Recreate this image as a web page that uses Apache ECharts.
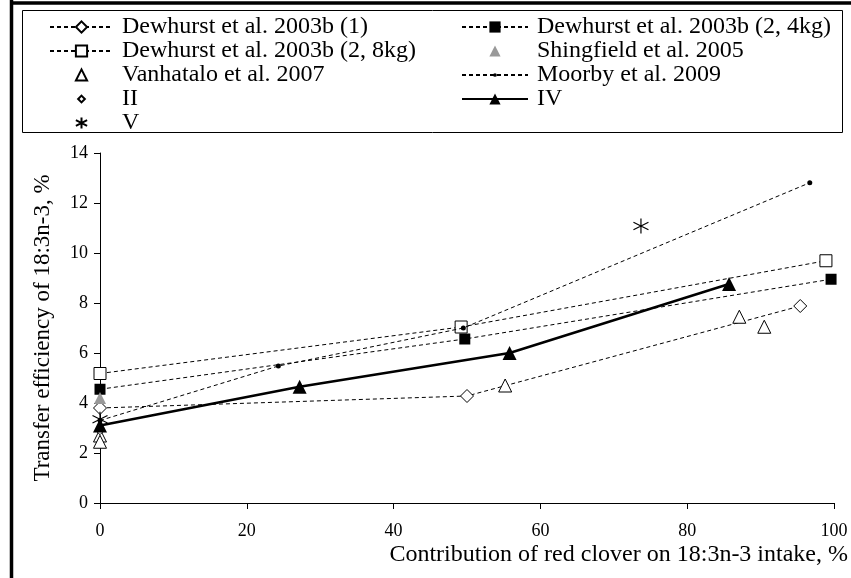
<!DOCTYPE html>
<html><head><meta charset="utf-8">
<script src="https://cdn.jsdelivr.net/npm/echarts@6/dist/echarts.min.js"></script>
<style>html,body{margin:0;padding:0;background:#fff}#c{width:851px;height:578px}</style>
</head><body><div id="c"></div>
<script>
const xTicks = [0, 20, 40, 60, 80, 100];
const yTicks = [0, 2, 4, 6, 8, 10, 12, 14];
const names = ['Dewhurst et al. 2003b (1)', 'Dewhurst et al. 2003b (2, 4kg)', 'Dewhurst et al. 2003b (2, 8kg)', 'Shingfield et al. 2005', 'Vanhatalo et al. 2007', 'Moorby et al. 2009', 'II', 'IV', 'V'];
const dew1 = [[0, 3.8], [50.0, 4.28], [95.4, 7.88]];
const dew4 = [[0, 4.55], [49.7, 6.56], [99.6, 8.95]];
const dew8 = [[0, 5.18], [49.2, 7.04], [98.9, 9.69]];
const shing = [[0, 4.2]];
const vanh = [[0, 2.7], [0, 2.45], [55.2, 4.7], [87.1, 7.45], [90.5, 7.05]];
const moorby = [[0, 3.3], [24.3, 5.48], [49.5, 7.0], [96.7, 12.81]];
const grpII = [[0, 2.9]];
const grpIV = [[0, 3.1], [27.2, 4.65], [55.8, 6.0], [85.7, 8.76]];
const grpV = [[0, 3.35], [73.7, 11.08]];

const serif = "'Liberation Serif','Times New Roman',serif";
const star = 'path://M0,-10L0,10M-8.66,-5L8.66,5M-8.66,5L8.66,-5';
const smallDot = 'path://M-3,-3L-3,-3M3,3L3,3M-1,0A1,1,0,1,1,1,0A1,1,0,1,1,-1,0Z';
const smallDiamond = 'path://M-10,-10L-10,-10M10,10L10,10M0,-6L6,0L0,6L-6,0Z';
const dash = {color: '#000', width: 1, type: [4, 3]};
const noLine = {width: 0, opacity: 0};
const openStyle = {color: '#fff', borderColor: '#000', borderWidth: 1};
const legendText = {fontFamily: serif, fontSize: 24, lineHeight: 23, color: '#000', padding: [0, 0, 0, 4]};

const chart = echarts.init(document.getElementById('c'), null, {renderer: 'canvas'});
chart.setOption({
  animation: false,
  textStyle: {fontFamily: serif, color: '#000'},
  grid: {left: 100, right: 17, top: 153, bottom: 75},
  legend: [
    {orient: 'vertical', left: 44, top: 10, itemWidth: 63, itemHeight: 14, itemGap: 0,
     textStyle: legendText, data: [names[0], names[2], names[4], names[6], names[8]]},
    {orient: 'vertical', left: 456, top: 10, itemWidth: 66, itemHeight: 14, itemGap: 0,
     textStyle: legendText, data: [names[1], names[3], names[5], names[7]]}
  ],
  xAxis: {
    type: 'value', min: xTicks[0], max: xTicks[xTicks.length - 1], interval: 20,
    splitLine: {show: false},
    axisLine: {onZero: false, lineStyle: {color: '#000', width: 1}},
    axisTick: {length: 6, lineStyle: {color: '#000'}},
    axisLabel: {fontFamily: serif, fontSize: 18, color: '#000', margin: 19},
    name: 'Contribution of red clover on 18:3n-3 intake, %',
    nameLocation: 'end', nameGap: 14,
    nameTextStyle: {fontFamily: serif, fontSize: 24, color: '#000', align: 'right', verticalAlign: 'top', padding: [40, 0, 0, 0]}
  },
  yAxis: {
    type: 'value', min: yTicks[0], max: yTicks[yTicks.length - 1], interval: 2,
    splitLine: {show: false},
    axisLine: {show: true, onZero: false, lineStyle: {color: '#000', width: 1}},
    axisTick: {show: true, length: 6, lineStyle: {color: '#000'}},
    axisLabel: {fontFamily: serif, fontSize: 18, color: '#000', margin: 12},
    name: 'Transfer efficiency of 18:3n-3, %', nameLocation: 'middle', nameGap: 46,
    nameTextStyle: {fontFamily: serif, fontSize: 23, color: '#000'}
  },
  graphic: [
    {type: 'line', shape: {x1: 11.5, y1: 0, x2: 11.5, y2: 578}, style: {stroke: '#000', lineWidth: 3.5}, silent: true},
    {type: 'line', shape: {x1: 10, y1: 3, x2: 851, y2: 3}, style: {stroke: '#000', lineWidth: 3.5}, silent: true},
    {type: 'rect', shape: {x: 22.5, y: 10.5, width: 820, height: 122}, style: {fill: 'none', stroke: '#000', lineWidth: 1}, silent: true}
  ],
  series: [
    {name: names[0], type: 'line', data: dew1, symbol: 'diamond', symbolSize: 13, lineStyle: dash, itemStyle: openStyle, z: 3},
    {name: names[1], type: 'line', data: dew4, symbol: 'rect', symbolSize: 11, lineStyle: dash, itemStyle: {color: '#000'}, z: 3},
    {name: names[2], type: 'line', data: dew8, symbol: 'rect', symbolSize: 12, lineStyle: dash, itemStyle: openStyle, z: 3},
    {name: names[3], type: 'line', data: shing, symbol: 'triangle', symbolSize: 12, lineStyle: noLine, itemStyle: {color: '#999'}, z: 4},
    {name: names[4], type: 'line', data: vanh, symbol: 'triangle', symbolSize: 13, lineStyle: noLine, itemStyle: openStyle, z: 4},
    {name: names[5], type: 'line', data: moorby, symbol: smallDot, symbolSize: 15, lineStyle: dash, itemStyle: {color: '#000'}, z: 5},
    {name: names[6], type: 'line', data: grpII, symbol: smallDiamond, symbolSize: 14, lineStyle: noLine, itemStyle: openStyle, z: 4},
    {name: names[7], type: 'line', data: grpIV, symbol: 'triangle', symbolSize: 14, lineStyle: {color: '#000', width: 2.5, type: 'solid'}, itemStyle: {color: '#000'}, z: 6},
    {name: names[8], type: 'line', data: grpV, symbol: star, symbolSize: 15, lineStyle: noLine, itemStyle: {color: 'none', borderColor: '#000', borderWidth: 1.2}, z: 6}
  ]
});
</script></body></html>
